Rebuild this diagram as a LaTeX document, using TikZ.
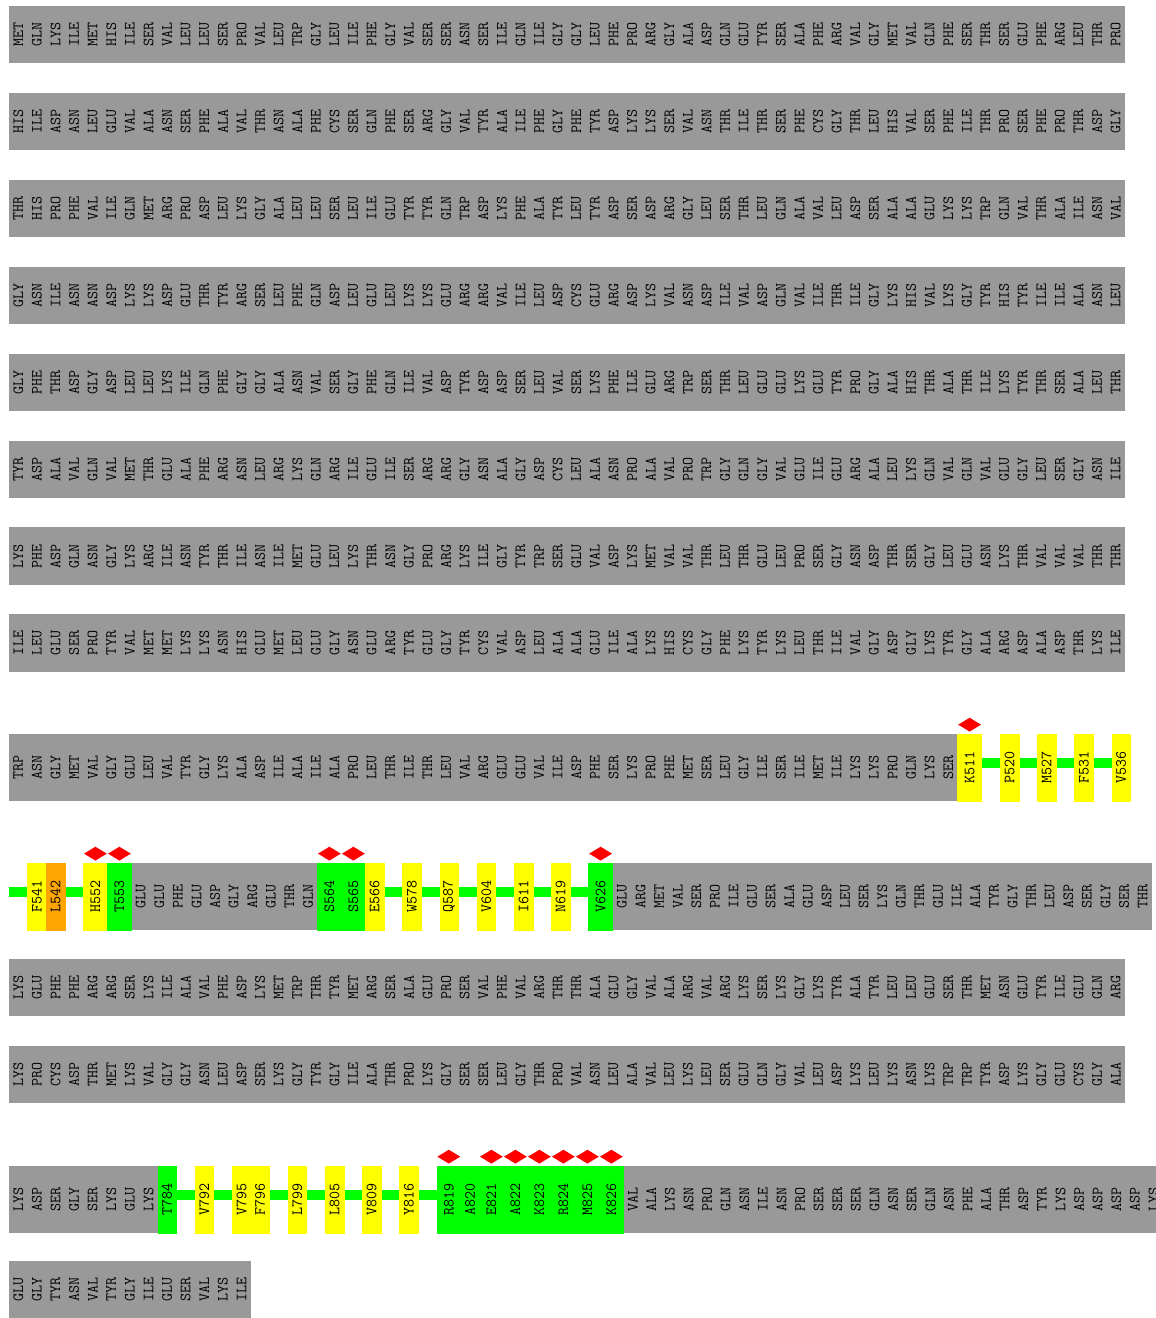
\documentclass[tikz,border=0pt]{standalone}
\usepackage{xcolor}
\usepackage{tikz}
\usetikzlibrary{shapes.geometric}
\definecolor{resgray}{RGB}{153,153,153}
\definecolor{hlyellow}{RGB}{255,255,0}
\definecolor{hlgreen}{RGB}{0,255,0}
\definecolor{hlorange}{RGB}{255,165,0}
\definecolor{sitered}{RGB}{255,0,0}
\pgfdeclarelayer{background}
\pgfsetlayers{background,main}
\tikzstyle{res}=[rotate=90, inner sep=0pt, font=\fontsize{15.6}{18}\selectfont\ttfamily]
\tikzstyle{hlbox}=[res, minimum width=67pt, line width=0.3pt]
\tikzstyle{site}=[diamond, fill=sitered, inner sep=0pt, minimum width=23pt, minimum height=14pt]
\tikzstyle{linker}=[hlgreen, line width=10.5pt]
\def\slotw{18.6}
% name, x start, y top, height, count, residues
\newcommand{\seqrow}[6]{%
  \fill[resgray] (#2,#3) rectangle ++({#5*\slotw},#4);
  \foreach \resname [count=\i] in {#6}
    \node[res] (#1-\i) at ({#2+(\i-0.5)*\slotw},{#3+#4/2}) {\resname};
}

\begin{document}
\begin{tikzpicture}[x=1pt, y=-1pt]
        \useasboundingbox (0,0) rectangle (1156,1318);

        % Plain rows
        \seqrow{r1}{9}{6}{57.3}{60}{MET,GLN,LYS,ILE,MET,HIS,ILE,SER,VAL,LEU,LEU,SER,PRO,VAL,LEU,TRP,GLY,LEU,ILE,PHE,GLY,VAL,SER,SER,ASN,SER,ILE,GLN,ILE,GLY,GLY,LEU,PHE,PRO,ARG,GLY,ALA,ASP,GLN,GLU,TYR,SER,ALA,PHE,ARG,VAL,GLY,MET,VAL,GLN,PHE,SER,THR,SER,GLU,PHE,ARG,LEU,THR,PRO}
        \seqrow{r2}{9}{92.9}{57.3}{60}{HIS,ILE,ASP,ASN,LEU,GLU,VAL,ALA,ASN,SER,PHE,ALA,VAL,THR,ASN,ALA,PHE,CYS,SER,GLN,PHE,SER,ARG,GLY,VAL,TYR,ALA,ILE,PHE,GLY,PHE,TYR,ASP,LYS,LYS,SER,VAL,ASN,THR,ILE,THR,SER,PHE,CYS,GLY,THR,LEU,HIS,VAL,SER,PHE,ILE,THR,PRO,SER,PHE,PRO,THR,ASP,GLY}
        \seqrow{r3}{9}{179.8}{57.3}{60}{THR,HIS,PRO,PHE,VAL,ILE,GLN,MET,ARG,PRO,ASP,LEU,LYS,GLY,ALA,LEU,LEU,SER,LEU,ILE,GLU,TYR,TYR,GLN,TRP,ASP,LYS,PHE,ALA,TYR,LEU,TYR,ASP,SER,ASP,ARG,GLY,LEU,SER,THR,LEU,GLN,ALA,VAL,LEU,ASP,SER,ALA,ALA,GLU,LYS,LYS,TRP,GLN,VAL,THR,ALA,ILE,ASN,VAL}
        \seqrow{r4}{9}{266.7}{57.3}{60}{GLY,ASN,ILE,ASN,ASN,ASP,LYS,LYS,ASP,GLU,THR,TYR,ARG,SER,LEU,PHE,GLN,ASP,LEU,GLU,LEU,LYS,LYS,GLU,ARG,ARG,VAL,ILE,LEU,ASP,CYS,GLU,ARG,ASP,LYS,VAL,ASN,ASP,ILE,VAL,ASP,GLN,VAL,ILE,THR,ILE,GLY,LYS,HIS,VAL,LYS,GLY,TYR,HIS,TYR,ILE,ILE,ALA,ASN,LEU}
        \seqrow{r5}{9}{353.6}{57.3}{60}{GLY,PHE,THR,ASP,GLY,ASP,LEU,LEU,LYS,ILE,GLN,PHE,GLY,GLY,ALA,ASN,VAL,SER,GLY,PHE,GLN,ILE,VAL,ASP,TYR,ASP,ASP,SER,LEU,VAL,SER,LYS,PHE,ILE,GLU,ARG,TRP,SER,THR,LEU,GLU,GLU,LYS,GLU,TYR,PRO,GLY,ALA,HIS,THR,ALA,THR,ILE,LYS,TYR,THR,SER,ALA,LEU,THR}
        \seqrow{r6}{9}{440.5}{57.3}{60}{TYR,ASP,ALA,VAL,GLN,VAL,MET,THR,GLU,ALA,PHE,ARG,ASN,LEU,ARG,LYS,GLN,ARG,ILE,GLU,ILE,SER,ARG,ARG,GLY,ASN,ALA,GLY,ASP,CYS,LEU,ALA,ASN,PRO,ALA,VAL,PRO,TRP,GLY,GLN,GLY,VAL,GLU,ILE,GLU,ARG,ALA,LEU,LYS,GLN,VAL,GLN,VAL,GLU,GLY,LEU,SER,GLY,ASN,ILE}
        \seqrow{r7}{9}{527.4}{57.3}{60}{LYS,PHE,ASP,GLN,ASN,GLY,LYS,ARG,ILE,ASN,TYR,THR,ILE,ASN,ILE,MET,GLU,LEU,LYS,THR,ASN,GLY,PRO,ARG,LYS,ILE,GLY,TYR,TRP,SER,GLU,VAL,ASP,LYS,MET,VAL,VAL,THR,LEU,THR,GLU,LEU,PRO,SER,GLY,ASN,ASP,THR,SER,GLY,LEU,GLU,ASN,LYS,THR,VAL,VAL,VAL,THR,THR}
        \seqrow{r8}{9}{614.3}{57.3}{60}{ILE,LEU,GLU,SER,PRO,TYR,VAL,MET,MET,LYS,LYS,ASN,HIS,GLU,MET,LEU,GLU,GLY,ASN,GLU,ARG,TYR,GLU,GLY,TYR,CYS,VAL,ASP,LEU,ALA,ALA,GLU,ILE,ALA,LYS,HIS,CYS,GLY,PHE,LYS,TYR,LYS,LEU,THR,ILE,VAL,GLY,ASP,GLY,LYS,TYR,GLY,ALA,ARG,ASP,ALA,ASP,THR,LYS,ILE}

        % Row 9
        \seqrow{r9}{9}{734}{67}{51}{TRP,ASN,GLY,MET,VAL,GLY,GLU,LEU,VAL,TYR,GLY,LYS,ALA,ASP,ILE,ALA,ILE,ALA,PRO,LEU,THR,ILE,THR,LEU,VAL,ARG,GLU,GLU,VAL,ILE,ASP,PHE,SER,LYS,PRO,PHE,MET,SER,LEU,GLY,ILE,SER,ILE,MET,ILE,LYS,LYS,PRO,GLN,LYS,SER}
        \foreach \nm/\xc/\bw/\fc/\lab in {k511/969.6/24/hlyellow/K511, p520/1009.5/18.6/hlyellow/P520, m527/1046.7/18.6/hlyellow/M527, f531/1083.9/18.6/hlyellow/F531, v536/1121.1/18.6/hlyellow/V536}
          \node[hlbox, fill=\fc, draw=\fc, minimum height=\bw] (\nm) at (\xc,767.5) {\lab};

        % Row 10
        \coordinate (row10start) at (9,896.5);
        \seqrow{r10a}{131.4}{863}{67}{10}{GLU,GLU,PHE,GLU,ASP,GLY,ARG,GLU,THR,GLN}
        \seqrow{r10b}{612.6}{863}{67}{29}{GLU,ARG,MET,VAL,SER,PRO,ILE,GLU,SER,ALA,GLU,ASP,LEU,SER,LYS,GLN,THR,GLU,ILE,ALA,TYR,GLY,THR,LEU,ASP,SER,GLY,SER,THR}
        \foreach \nm/\xc/\bw/\fc/\lab in {f541/36.9/18.6/hlyellow/F541, l542/55.5/18.6/hlorange/L542, h552/95.4/24/hlyellow/H552, t553/119.4/24/hlgreen/T553, s564/329.4/24/hlgreen/S564, s565/353.4/24/hlgreen/S565, e566/374.7/18.6/hlyellow/E566, w578/411.9/18.6/hlyellow/W578, q587/449.1/18.6/hlyellow/Q587, v604/486.3/18.6/hlyellow/V604, i611/523.5/18.6/hlyellow/I611, n619/560.7/18.6/hlyellow/N619, v626/600.6/24/hlgreen/V626}
          \node[hlbox, fill=\fc, draw=\fc, minimum height=\bw] (\nm) at (\xc,896.5) {\lab};

        % Rows 11 and 12
        \seqrow{r11}{9}{959}{57.3}{60}{LYS,GLU,PHE,PHE,ARG,ARG,SER,LYS,ILE,ALA,VAL,PHE,ASP,LYS,MET,TRP,THR,TYR,MET,ARG,SER,ALA,GLU,PRO,SER,VAL,PHE,VAL,ARG,THR,THR,ALA,GLU,GLY,VAL,ALA,ARG,VAL,ARG,LYS,SER,LYS,GLY,LYS,TYR,ALA,TYR,LEU,LEU,GLU,SER,THR,MET,ASN,GLU,TYR,ILE,GLU,GLN,ARG}
        \seqrow{r12}{9}{1045.9}{57.3}{60}{LYS,PRO,CYS,ASP,THR,MET,LYS,VAL,GLY,GLY,ASN,LEU,ASP,SER,LYS,GLY,TYR,GLY,ILE,ALA,THR,PRO,LYS,GLY,SER,SER,LEU,GLY,THR,PRO,VAL,ASN,LEU,ALA,VAL,LEU,LYS,LEU,SER,GLU,GLN,GLY,VAL,LEU,ASP,LYS,LEU,LYS,ASN,LYS,TRP,TRP,TYR,ASP,LYS,GLY,GLU,CYS,GLY,ALA}

        % Row 13
        \seqrow{r13a}{9}{1166}{67}{8}{LYS,ASP,SER,GLY,SER,LYS,GLU,LYS}
        \seqrow{r13b}{623.4}{1166}{67}{29}{VAL,ALA,LYS,ASN,PRO,GLN,ASN,ILE,ASN,PRO,SER,SER,SER,GLN,ASN,SER,GLN,ASN,PHE,ALA,THR,ASP,TYR,LYS,ASP,ASP,ASP,ASP,LYS}
        \foreach \nm/\xc/\bw/\fc/\lab in {t784/167.1/18.6/hlgreen/T784, v792/204.3/18.6/hlyellow/V792, v795/241.5/18.6/hlyellow/V795, f796/260.1/18.6/hlyellow/F796, l799/297.3/18.6/hlyellow/L799, l805/334.5/18.6/hlyellow/L805, v809/371.7/18.6/hlyellow/V809, y816/408.9/18.6/hlyellow/Y816, r819/448.8/24/hlgreen/R819, a820/470.1/18.6/hlgreen/A820, e821/491.4/24/hlgreen/E821, a822/515.4/24/hlgreen/A822, k823/539.4/24/hlgreen/K823, r824/563.4/24/hlgreen/R824, m825/587.4/24/hlgreen/M825, k826/611.4/24/hlgreen/K826}
          \node[hlbox, fill=\fc, draw=\fc, minimum height=\bw] (\nm) at (\xc,1199.5) {\lab};

        % Row 14
        \seqrow{r14}{9}{1261}{57.3}{13}{GLU,GLY,TYR,ASN,VAL,TYR,GLY,ILE,GLU,SER,VAL,LYS,ILE}

        % Marked sites
        \foreach \nm in {k511,h552,t553,s564,s565,v626,r819,e821,a822,k823,r824,m825,k826}
          \node[site, anchor=south] (\nm-site) at ([yshift=2pt]\nm.east) {};

        % Linkers behind the boxes
        \begin{pgfonlayer}{background}
        \draw[linker] ([yshift=4.5pt]k511.center) -- ([yshift=4.5pt]v536.center);
        \draw[linker] ([yshift=4.5pt]row10start) -- ([yshift=4.5pt]v626.center);
        \draw[linker] ([yshift=4.5pt]t784.center) -- ([yshift=4.5pt]r819.center);
        \end{pgfonlayer}

    \end{tikzpicture}
\end{document}
